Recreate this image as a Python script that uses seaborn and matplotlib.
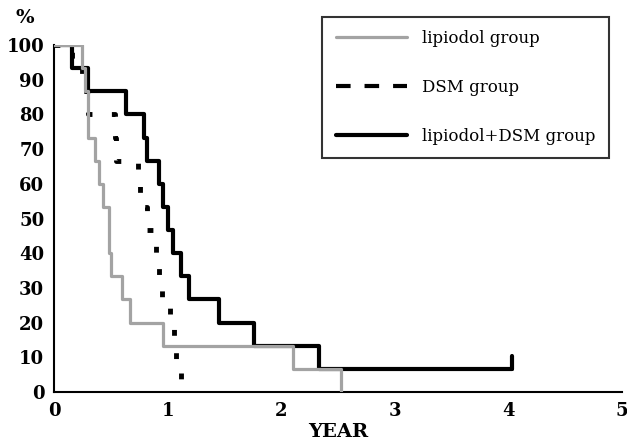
import pandas as pd
import matplotlib
matplotlib.use('Agg')
import matplotlib.pyplot as plt
import seaborn as sns

# datos (tiempo en años, supervivencia en %)
lip_t = [0, 0.25, 0.27, 0.30, 0.36, 0.40, 0.43, 0.48, 0.50, 0.60, 0.67, 0.96, 2.10, 2.53]
lip_s = [100, 93.3, 86.7, 73.3, 66.7, 60, 53.3, 40, 33.3, 26.7, 20, 13.3, 6.7, 0]

dsm_t = [0, 0.16, 0.25, 0.30, 0.54, 0.55, 0.74, 0.76, 0.82, 0.90, 0.92, 0.95, 1.02, 1.06, 1.07, 1.12, 1.13]
dsm_s = [100, 93.3, 86.7, 80, 73.3, 66.7, 60, 53.3, 46.7, 40, 33.3, 26.7, 20, 13.3, 6.7, 0, 0]

comb_t = [0, 0.16, 0.30, 0.63, 0.79, 0.82, 0.92, 0.96, 1.00, 1.05, 1.12, 1.19, 1.45, 1.76, 2.33, 4.03]
comb_s = [100, 93.3, 86.7, 80, 73.3, 66.7, 60, 53.3, 46.7, 40, 33.3, 26.7, 20, 13.3, 6.7, 6.7]

# marca de censura al final del grupo combinado
cens_t = [4.03, 4.03]
cens_s = [6.7, 10.5]

etiquetas = ['lipiodol group', 'DSM group', 'lipiodol+DSM group']
xticks = [0, 1, 2, 3, 4, 5]
yticks = list(range(0, 101, 10))

sns.set_style('white')
plt.rcParams['font.family'] = ['DejaVu Serif']
plt.rcParams['text.color'] = 'black'
plt.rcParams['axes.labelcolor'] = 'black'

fig = plt.figure(figsize=(6.27, 4.46), dpi=100)
ax = fig.add_axes([0.0861, 0.121, 0.906, 0.778])

df_lip = pd.DataFrame({'year': lip_t, 'surv': lip_s})
df_dsm = pd.DataFrame({'year': dsm_t, 'surv': dsm_s})
df_comb = pd.DataFrame({'year': comb_t, 'surv': comb_s})
df_cens = pd.DataFrame({'year': cens_t, 'surv': cens_s})

sns.lineplot(data=df_lip, x='year', y='surv', ax=ax, color='#a3a3a3', lw=2.3,
             drawstyle='steps-post', estimator=None, sort=False, label=etiquetas[0], zorder=3)
sns.lineplot(data=df_dsm, x='year', y='surv', ax=ax, color='black', lw=3.5,
             drawstyle='steps-post', estimator=None, sort=False, label=etiquetas[1],
             dashes=(1.2, 4.0), zorder=2)
sns.lineplot(data=df_comb, x='year', y='surv', ax=ax, color='black', lw=3,
             drawstyle='steps-post', estimator=None, sort=False, label=etiquetas[2], zorder=2)
sns.lineplot(data=df_cens, x='year', y='surv', ax=ax, color='black', lw=3,
             estimator=None, sort=False, zorder=2)

ax.set_xlim(0, 5)
ax.set_ylim(0, 100)
ax.set_xticks(xticks)
ax.set_yticks(yticks)
ax.tick_params(axis='both', direction='in', length=7, width=1.5, colors='black',
               labelsize=13, pad=7)
for lab in ax.get_xticklabels() + ax.get_yticklabels():
    lab.set_fontweight('bold')

for lado in ['top', 'right']:
    ax.spines[lado].set_visible(False)
for lado in ['left', 'bottom']:
    ax.spines[lado].set_color('black')
    ax.spines[lado].set_linewidth(1.5)

ax.set_xlabel('YEAR', fontsize=14, fontweight='bold', labelpad=2, color='black')
ax.set_ylabel('')
fig.text(0.025, 0.96, '%', fontsize=14, fontweight='bold', ha='left', va='center', color='black')

leg = ax.legend(loc='upper left', bbox_to_anchor=(0.514, 0.962), bbox_transform=fig.transFigure,
                fontsize=12, frameon=True, fancybox=False, edgecolor='black',
                handlelength=4.3, handletextpad=0.9, labelspacing=1.9, borderpad=0.8,
                borderaxespad=0)
leg.get_frame().set_linewidth(1.5)
for txt in leg.get_texts():
    txt.set_color('black')
leg.get_lines()[1].set_dashes((3.5, 3.35))
leg.get_lines()[1].set_linewidth(3)

fig.savefig('out.png', dpi=100)
